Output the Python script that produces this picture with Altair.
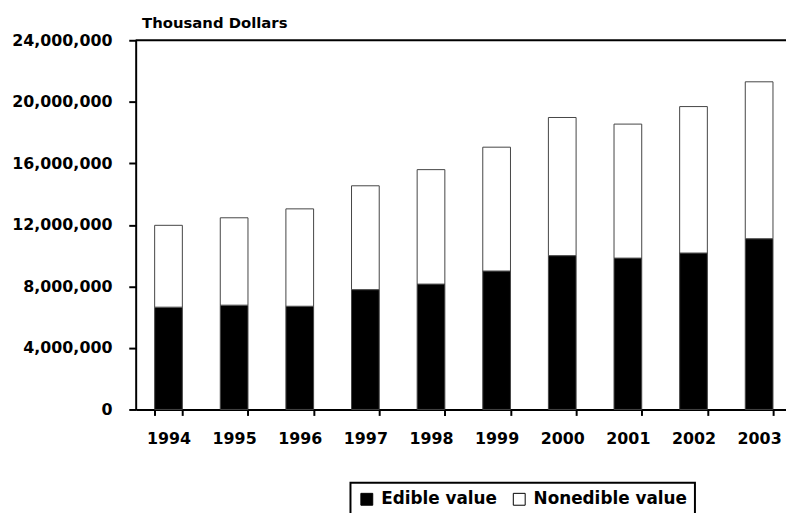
import altair as alt
import pandas as pd

years = ["1994", "1995", "1996", "1997", "1998", "1999", "2000", "2001", "2002", "2003"]
edible = [6650000, 6780000, 6710000, 7790000, 8150000, 9000000, 10000000, 9840000, 10170000, 11100000]
nonedible = [5320000, 5680000, 6330000, 6750000, 7440000, 8050000, 8980000, 8710000, 9520000, 10200000]
series = ["Edible value", "Nonedible value"]
y_ticks = [0, 4000000, 8000000, 12000000, 16000000, 20000000, 24000000]

rows = []
for i, yr in enumerate(years):
    rows.append({"year": yr, "series": series[0], "value": edible[i], "ord": 0})
    rows.append({"year": yr, "series": series[1], "value": nonedible[i], "ord": 1})
df = pd.DataFrame(rows)

FONT = "DejaVu Sans"

bars = alt.Chart(df).mark_bar(stroke="#444444", strokeWidth=1).encode(
    x=alt.X(
        "year:N",
        sort=years,
        scale=alt.Scale(range=[0, 663], paddingInner=0.578, paddingOuter=0.289),
        axis=alt.Axis(
            title=None, labelAngle=0, tickBand="extent",
            domainColor="black", domainWidth=2,
            tickColor="black", tickWidth=2, tickSize=6,
            labelPadding=15, labelFont=FONT, labelFontSize=16,
            labelFontWeight="bold", labelColor="black", grid=False,
        ),
    ),
    y=alt.Y(
        "value:Q",
        stack="zero",
        scale=alt.Scale(domain=[0, 24000000], nice=False),
        axis=alt.Axis(
            values=y_ticks, format=",.0f", grid=False,
            domainColor="black", domainWidth=2,
            tickColor="black", tickWidth=2, tickSize=7,
            labelPadding=17, labelFont=FONT, labelFontSize=16,
            labelFontWeight="bold", labelColor="black",
            title="Thousand Dollars", titleAngle=0, titleAlign="left",
            titleBaseline="alphabetic", titleX=6, titleY=-12.5,
            titleFont=FONT, titleFontSize=15, titleFontWeight="bold",
            titleColor="black",
        ),
    ),
    color=alt.Color(
        "series:N",
        scale=alt.Scale(domain=series, range=["black", "white"]),
        legend=alt.Legend(
            title=None, orient="none", legendX=217, legendY=447,
            direction="horizontal", symbolType="square", symbolSize=144,
            symbolStrokeColor="black", symbolStrokeWidth=1,
            labelFont=FONT, labelFontSize=17, labelFontWeight="bold",
            labelColor="black", labelOffset=6, columnPadding=13,
            padding=8, strokeColor="black",
        ),
    ),
    order=alt.Order("ord:Q", sort="ascending"),
)

top_line = alt.Chart(pd.DataFrame({"a": [0]})).mark_rule(color="black", strokeWidth=2).encode(
    y=alt.datum(24000000),
    x=alt.value(0),
    x2=alt.value(700),
)

chart = alt.layer(bars, top_line).properties(
    width=657,
    height=373,
    padding={"left": 129, "top": 30, "right": 0, "bottom": 102},
    autosize=alt.AutoSizeParams(type="none"),
    background="white",
).configure_view(stroke=None).configure_legend(strokeWidth=2)

chart.save("out.html", embed_options={"renderer": "svg", "actions": False})
